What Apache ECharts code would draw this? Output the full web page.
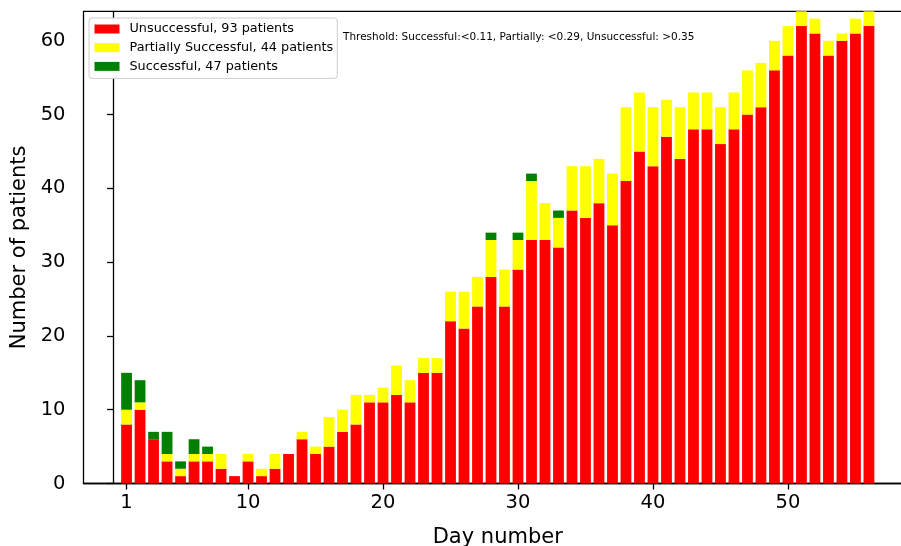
<!DOCTYPE html>
<html>
<head>
<meta charset="utf-8">
<script src="https://cdn.jsdelivr.net/npm/echarts@6/dist/echarts.min.js"></script>
<style>
  html, body { margin: 0; padding: 0; background: #fff; }
  #chart { width: 901px; height: 546px; }
</style>
</head>
<body>
<div id="chart"></div>
<script>
// Day numbers (x positions of the bars)
const days = [
   1,  2,  3,  4,  5,  6,  7,  8,  9, 10, 11, 12, 13, 14,
  15, 16, 17, 18, 19, 20, 21, 22, 23, 24, 25, 26, 27, 28,
  29, 30, 31, 32, 33, 34, 35, 36, 37, 38, 39, 40, 41, 42,
  43, 44, 45, 46, 47, 48, 49, 50, 51, 52, 53, 54, 55, 56
];

// Patients per day in each outcome group (stacked: red, then yellow, then green)
const unsuccessful = [
   8, 10,  6,  3,  1,  3,  3,  2,  1,  3,  1,  2,  4,  6,
   4,  5,  7,  8, 11, 11, 12, 11, 15, 15, 22, 21, 24, 28,
  24, 29, 33, 33, 32, 37, 36, 38, 35, 41, 45, 43, 47, 44,
  48, 48, 46, 48, 50, 51, 56, 58, 62, 61, 58, 60, 61, 62
];
const partiallySuccessful = [
   2,  1,  0,  1,  1,  1,  1,  2,  0,  1,  1,  2,  0,  1,
   1,  4,  3,  4,  1,  2,  4,  3,  2,  2,  4,  5,  4,  5,
   5,  4,  8,  5,  4,  6,  7,  6,  7, 10,  8,  8,  5,  7,
   5,  5,  5,  5,  6,  6,  4,  4,  2,  2,  2,  1,  2,  2
];
const successful = [
   5,  3,  1,  3,  1,  2,  1,  0,  0,  0,  0,  0,  0,  0,
   0,  0,  0,  0,  0,  0,  0,  0,  0,  0,  0,  0,  0,  1,
   0,  1,  1,  0,  1,  0,  0,  0,  0,  0,  0,  0,  0,  0,
   0,  0,  0,  0,  0,  0,  0,  0,  0,  0,  0,  0,  0,  0
];

// Legend entries and annotation
const seriesNames = [
  'Unsuccessful, 93 patients',
  'Partially Successful, 44 patients',
  'Successful, 47 patients'
];
const seriesColors = ['#ff0000', '#ffff00', '#008000'];
const xTickValues = [1, 10, 20, 30, 40, 50];
const yTickValues = [0, 10, 20, 30, 40, 50, 60];
const thresholdNote = 'Threshold: Successful:<0.11, Partially: <0.29, Unsuccessful: >0.35';

const FONT = 'DejaVu Sans';

// Rows are [count, day]: the count comes first so that it is the stacked dimension.
function rows(values) {
  return days.map((d, i) => [values[i], d]);
}

const chart = echarts.init(document.getElementById('chart'), null, { renderer: 'canvas' });

const barSeries = [unsuccessful, partiallySuccessful, successful].map((vals, k) => ({
  name: seriesNames[k],
  type: 'bar',
  stack: 'patients',
  dimensions: ['count', 'day'],
  encode: { x: 'day', y: 'count' },
  data: rows(vals),
  barWidth: 10.8,
  itemStyle: { color: seriesColors[k] },
  emphasis: { disabled: true },
  animation: false
}));

chart.setOption({
  animation: false,
  backgroundColor: '#fff',
  grid: {
    left: 83.5,
    top: 11.3,
    width: 828.5,
    height: 472.2,
    outerBoundsMode: 'none',
    containLabel: false,
    show: true,
    borderColor: '#000',
    borderWidth: 1.3,
    backgroundColor: 'transparent'
  },
  legend: {
    orient: 'vertical',
    left: 89,
    top: 18,
    data: seriesNames,
    itemWidth: 25,
    itemHeight: 9,
    itemGap: 4.7,
    padding: [4, 4, 5, 5.5],
    backgroundColor: '#fff',
    borderColor: '#cccccc',
    borderWidth: 1,
    borderRadius: 3,
    selectedMode: false,
    icon: 'rect',
    textStyle: {
      fontFamily: FONT,
      fontSize: 12.8,
      lineHeight: 14,
      color: '#000',
      padding: [0, 0, 0, 5]
    }
  },
  xAxis: {
    type: 'value',
    min: -2.19,
    max: 59.19,
    name: 'Day number',
    nameLocation: 'middle',
    nameGap: 44,
    nameTextStyle: { fontFamily: FONT, fontSize: 21, color: '#000' },
    splitLine: { show: false },
    axisLine: { show: true, lineStyle: { color: '#000', width: 1.3 } },
    axisTick: {
      show: true,
      length: 6,
      lineStyle: { color: '#000', width: 1.3 },
      customValues: xTickValues
    },
    axisLabel: {
      fontFamily: FONT,
      fontSize: 19.5,
      color: '#000',
      margin: 9,
      customValues: xTickValues
    }
  },
  yAxis: {
    type: 'value',
    min: 0,
    max: 64,
    name: 'Number of patients',
    nameLocation: 'middle',
    nameGap: 52,
    nameTextStyle: { fontFamily: FONT, fontSize: 21, color: '#000' },
    splitLine: { show: false },
    axisLine: { show: true, lineStyle: { color: '#000', width: 1.3 } },
    axisTick: {
      show: true,
      length: 6,
      lineStyle: { color: '#000', width: 1.3 },
      customValues: yTickValues
    },
    axisLabel: {
      fontFamily: FONT,
      fontSize: 19.5,
      color: '#000',
      margin: 18,
      customValues: yTickValues
    }
  },
  graphic: [{
    type: 'text',
    left: 343,
    top: 32,
    style: {
      text: thresholdNote,
      fontFamily: FONT,
      fontSize: 10.5,
      fill: '#000'
    }
  }],
  series: barSeries
});
</script>
</body>
</html>
